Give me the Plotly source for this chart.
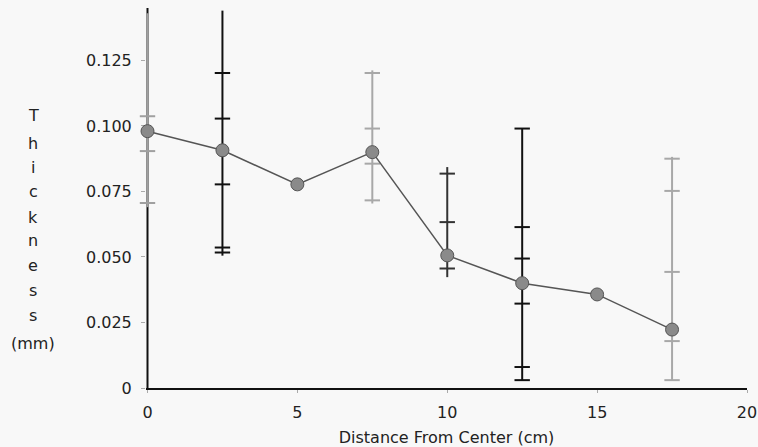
import plotly.graph_objects as go

# ---- data ----
distance = [0, 2.5, 5, 7.5, 10, 12.5, 15, 17.5]
thickness = [0.098, 0.0907, 0.0777, 0.0900, 0.0506, 0.0400, 0.0357, 0.0223]

bar_x = [0, 2.5, 7.5, 10, 12.5, 17.5]
bar_low = [0.0690, 0.0505, 0.0704, 0.0423, 0.0029, 0.0030]
bar_high = [0.1430, 0.1440, 0.1212, 0.0843, 0.0990, 0.0882]
bar_ticks = [
    [0.1037, 0.0904, 0.0706],
    [0.1202, 0.1028, 0.0777, 0.0536, 0.0517],
    [0.1202, 0.0990, 0.0856, 0.0716],
    [0.0818, 0.0633, 0.0456],
    [0.0990, 0.0614, 0.0494, 0.0322, 0.0080, 0.0030],
    [0.0875, 0.0752, 0.0443, 0.0179, 0.0030],
]
bar_colors = ["#a0a0a0", "#111111", "#a8a8a8", "#333333", "#111111", "#a8a8a8"]

y_tickvals = [0, 0.025, 0.05, 0.075, 0.1, 0.125]
y_ticktext = ["0", "0.025", "0.050", "0.075", "0.100", "0.125"]
x_tickvals = [0, 5, 10, 15, 20]
y_title_letters = ["T", "h", "i", "c", "k", "n", "e", "s", "s", "(mm)"]

FONT = "DejaVu Sans"
fig = go.Figure()

# y-axis line drawn at x = 0 beneath the traces
fig.add_shape(type="line", xref="x", yref="paper", x0=0, x1=0, y0=0, y1=1,
              line=dict(color="#111111", width=2), layer="below")

for bx, lo, hi, ticks, col in zip(bar_x, bar_low, bar_high, bar_ticks, bar_colors):
    fig.add_trace(go.Scatter(x=[bx, bx], y=[lo, hi], mode="lines",
                             line=dict(color=col, width=2), showlegend=False,
                             hoverinfo="skip"))
    fig.add_trace(go.Scatter(x=[bx] * len(ticks), y=ticks, mode="markers",
                             marker=dict(symbol="line-ew", size=11,
                                         line=dict(color=col, width=2)),
                             cliponaxis=False, showlegend=False, hoverinfo="skip"))

fig.add_trace(go.Scatter(
    x=distance, y=thickness, mode="lines+markers",
    line=dict(color="#555555", width=1.5),
    marker=dict(size=13, color="#8a8a8a", line=dict(color="#555555", width=1)),
    cliponaxis=False, showlegend=False))

# y-axis title as stacked letters
py_positions = [115, 143, 167, 192, 217, 240, 265, 290, 315, 343]
for letter, py in zip(y_title_letters, py_positions):
    fig.add_annotation(text=letter, xref="paper", yref="paper",
                       x=(33 - 146) / 601, y=(388 - py) / 380,
                       showarrow=False, font=dict(family=FONT, size=16, color="#222222"),
                       xanchor="center", yanchor="middle")

fig.update_layout(
    width=758, height=447,
    margin=dict(l=146, r=11, t=8, b=59),
    paper_bgcolor="#f8f8f8", plot_bgcolor="#f8f8f8",
    font=dict(family=FONT, size=16, color="#222222"),
    xaxis=dict(range=[-0.05, 20], tickvals=x_tickvals, showgrid=False, zeroline=False,
               showline=True, linecolor="#111111", linewidth=2,
               ticks="outside", ticklen=3, tickcolor="#aaaaaa",
               ticklabelstandoff=6, automargin=False,
               title=dict(text="Distance From Center (cm)", font=dict(size=16), standoff=12),
               layer="below traces"),
    yaxis=dict(range=[0, 0.145], tickvals=y_tickvals, ticktext=y_ticktext,
               showgrid=False, zeroline=False, showline=False,
               ticks="outside", ticklen=4, tickcolor="#aaaaaa",
               ticklabelstandoff=6, automargin=False,
               layer="below traces"),
)

fig.write_html("out.html", config={"displayModeBar": False},
               post_script="document.body.style.margin='0';")
